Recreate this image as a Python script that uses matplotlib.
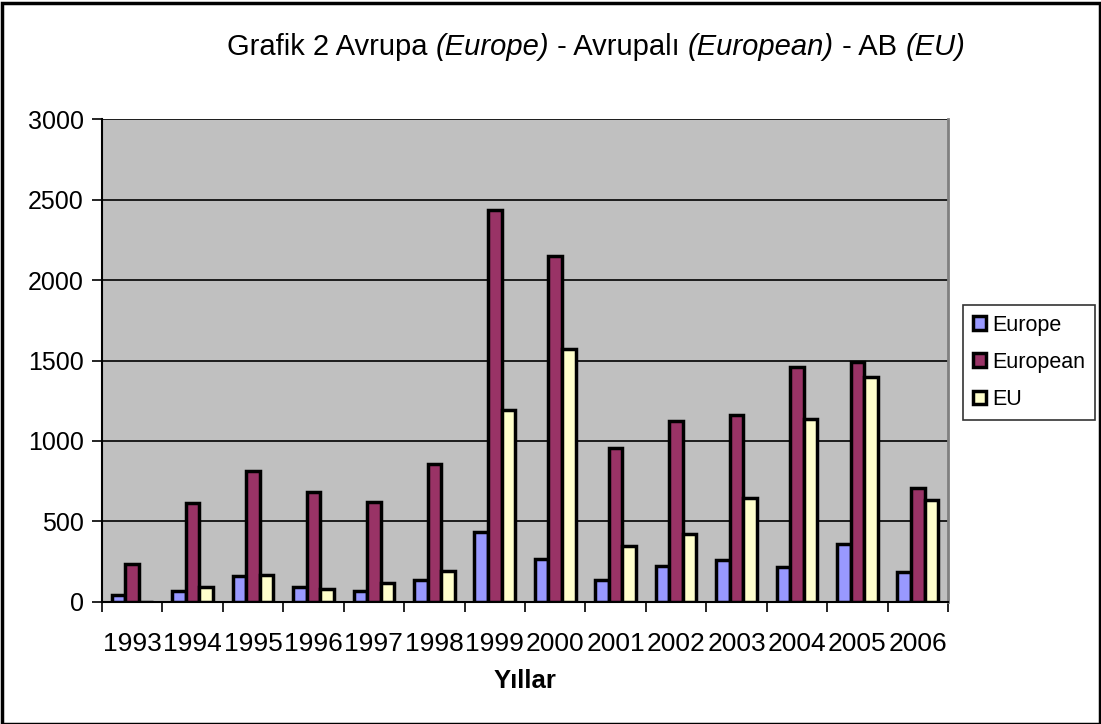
import numpy as np
import matplotlib.pyplot as plt
from matplotlib.patches import Rectangle

plt.rcParams['font.family'] = ['Liberation Sans', 'DejaVu Sans']

years = ['1993', '1994', '1995', '1996', '1997', '1998', '1999',
         '2000', '2001', '2002', '2003', '2004', '2005', '2006']
europe = [42, 65, 162, 93, 65, 133, 435, 265, 133, 224, 261, 218, 357, 183]
european = [232, 616, 815, 682, 622, 858, 2438, 2152, 958, 1126, 1163, 1461, 1493, 709]
eu = [0, 90, 168, 77, 114, 189, 1192, 1571, 348, 423, 647, 1138, 1399, 631]

series = [('Europe', europe, '#9999FF'),
          ('European', european, '#993366'),
          ('EU', eu, '#FFFFCC')]

fig = plt.figure(figsize=(11.01, 7.24), dpi=100)
ax = fig.add_axes([102 / 1101, 1 - 601.7 / 724, 846 / 1101, 482.4 / 724])
ax.set_facecolor('#C0C0C0')

x = np.arange(len(years))
w = 0.225
for i, (name, vals, col) in enumerate(series):
    ax.bar(x + (i - 1) * w, vals, w, color=col, edgecolor='black',
           linewidth=2.5, label=name, zorder=3)

ax.set_xlim(-0.5, len(years) - 0.5)
ax.set_ylim(0, 3000)
ax.set_yticks(range(0, 3001, 500))
ax.yaxis.grid(True, color='black', linewidth=1.2, zorder=1)
ax.set_axisbelow(True)

ax.set_xticks(x)
ax.set_xticklabels(years, fontsize=19)
ax.set_xticks(np.arange(-0.5, len(years)), minor=True)
ax.tick_params(axis='x', which='major', length=0, pad=22)
ax.tick_params(axis='x', which='minor', length=7, width=1.2, direction='out')
ax.tick_params(axis='y', length=7, width=1.2, labelsize=18, pad=6)

ax.spines['top'].set_visible(False)
ax.spines['right'].set_color('#808080')
ax.spines['right'].set_linewidth(2)
ax.spines['left'].set_linewidth(1.5)
ax.spines['bottom'].set_linewidth(1.5)

ax.set_xlabel('Yıllar', fontsize=18.5, fontweight='bold', labelpad=9)

leg = ax.legend(loc='upper left', bbox_to_anchor=(963 / 1101, 1 - 305 / 724),
                bbox_transform=fig.transFigure, fontsize=15.5, frameon=True,
                fancybox=False, edgecolor='black', handlelength=0.6,
                handleheight=0.6, handletextpad=0.3, labelspacing=0.75,
                borderpad=0.45, borderaxespad=0)
leg.get_frame().set_linewidth(1.2)

# title with italic parts
parts = [('Grafik 2 Avrupa ', 'normal'), ('(Europe)', 'italic'),
         (' - Avrupalı ', 'normal'), ('(European)', 'italic'),
         (' - AB ', 'normal'), ('(EU)', 'italic')]
fig.canvas.draw()
r = fig.canvas.get_renderer()
texts = []
total = 0
for s, st in parts:
    t = fig.text(0, 1 - 47 / 724, s, fontsize=21, style=st, va='center', ha='left')
    total += t.get_window_extent(r).width
    texts.append(t)
xpos = 596 - total / 2
for t in texts:
    t.set_x(xpos / 1101)
    xpos += t.get_window_extent(r).width

fig.patches.append(Rectangle((0.002, 0.0), 0.997, 0.996, transform=fig.transFigure,
                             fill=False, edgecolor='black', linewidth=2.5))

fig.savefig('out.png', dpi=100)
